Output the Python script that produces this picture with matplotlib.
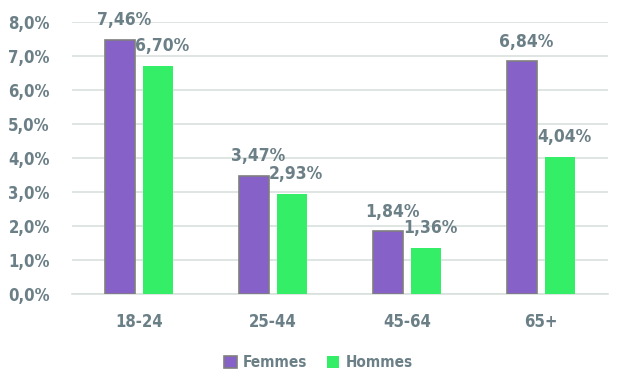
import numpy as np
import matplotlib.pyplot as plt
from matplotlib.ticker import FuncFormatter

categories = ["18-24", "25-44", "45-64", "65+"]
femmes = [7.46, 3.47, 1.84, 6.84]
hommes = [6.70, 2.93, 1.36, 4.04]

purple = "#8561c8"
green = "#33ee66"
text_col = "#6b7f86"
plt.rcParams["font.family"] = ["DejaVu Sans"]
plt.rcParams["font.stretch"] = "condensed"
plt.rcParams["font.weight"] = "bold"

fig = plt.figure(figsize=(6.22, 3.84), dpi=100)
ax = fig.add_axes([72 / 622, 1 - 294 / 384, 536 / 622, 272 / 384])

x = np.arange(len(categories))
w = 0.224
off = 0.142
b1 = ax.bar(x - off, femmes, w, color=purple, edgecolor="#7f7f7f", linewidth=1.2,
            label="Femmes", zorder=3)
b2 = ax.bar(x + off, hommes, w, color=green, label="Hommes", zorder=3)

fmt = lambda v: f"{v:.2f}%".replace(".", ",")
for rect, v in zip(list(b1) + list(b2), femmes + hommes):
    ax.text(rect.get_x() + rect.get_width() / 2 + 0.03, v + 0.32, fmt(v), ha="center",
            va="bottom", fontsize=12.5, color=text_col, fontweight="bold")

ax.set_xlim(-0.5, 3.5)
ax.set_ylim(0, 8)
ax.set_yticks(np.arange(0, 9, 1))
ax.yaxis.set_major_formatter(FuncFormatter(lambda v, p: f"{v:.1f}%".replace(".", ",")))
ax.set_xticks(x)
ax.set_xticklabels(categories)
ax.tick_params(axis="both", length=0, labelsize=12, labelcolor=text_col)
ax.tick_params(axis="x", pad=14)
ax.tick_params(axis="y", pad=16)
ax.grid(axis="y", color="#d9e0dd", linewidth=1.2, zorder=0)
for s in ["top", "right", "left"]:
    ax.spines[s].set_visible(False)
ax.spines["bottom"].set_color("#d9e0dd")
ax.spines["bottom"].set_linewidth(1.2)

fig.legend(loc="lower center", ncol=2, frameon=False, bbox_to_anchor=(0.512, 0.0),
           prop={"size": 11, "weight": "bold", "stretch": "condensed"}, labelcolor=text_col,
           handlelength=0.8, handleheight=0.8, columnspacing=1.3, handletextpad=0.4)

fig.savefig("out.png", dpi=100)
